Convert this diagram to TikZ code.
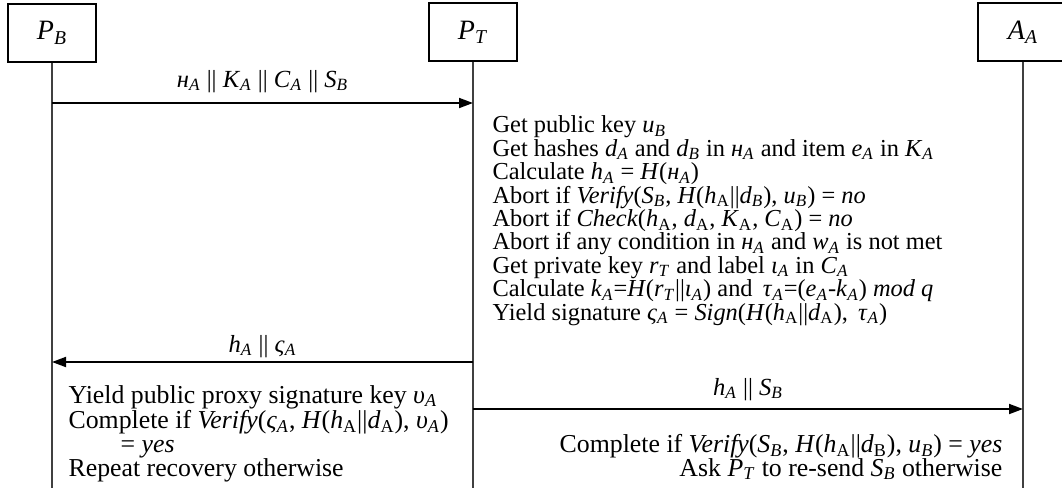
\documentclass[tikz,border=0pt]{standalone}
\usepackage{fontspec}
\setmainfont{Liberation Serif}
\usetikzlibrary{positioning, arrows.meta}
\newcommand{\vsub}[2]{\textit{#1}\textsubscript{\textit{#2}}}
\newcommand{\msub}[2]{\textit{#1}\textsubscript{#2}}
\newcommand{\hn}{\textit{н}}

\begin{document}
\begin{tikzpicture}[x=0.5pt,y=-0.5pt,line width=0.6pt,
    party/.style={draw, line width=0.7pt, minimum width=44pt, minimum height=29pt, inner sep=0pt, font=\fontsize{14}{16}\selectfont},
    life/.style={draw=black!75, line width=0.6pt},
    msg/.style={-{Triangle[length=7pt,width=5pt]}, line width=0.9pt},
    lbl/.style={font=\fontsize{12.3}{11.8}\selectfont, inner sep=0pt},
    steps/.style={font=\fontsize{12.2}{11.7}\selectfont, inner sep=0pt, align=left, anchor=base west},
    tail/.style={font=\fontsize{12.9}{11.78}\selectfont, inner sep=0pt}]
  \useasboundingbox (0,0) rectangle (1062,499);
  \node[party] (pb) at (52,33) {\vsub{P}{B}};
  \node[party] (pt) at (473,32) {\vsub{P}{T}};
  \node[party, minimum width=45pt] (aa) at (1023,32) {\vsub{A}{A}};
  \coordinate (pbend) at (pb.south |- 0,488);
  \coordinate (ptend) at (pt.south |- 0,488);
  \coordinate (aaend) at (aa.south |- 0,488);
  \foreach \p in {pb,pt,aa}{\draw[life] (\p.south) -- (\p end);}
  \coordinate (m1s) at (pb.south |- 0,103);
  \coordinate (m1e) at (pt.south |- 0,103);
  \coordinate (m2s) at (pt.south |- 0,362);
  \coordinate (m2e) at (pb.south |- 0,362);
  \coordinate (m3s) at (pt.south |- 0,409);
  \coordinate (m3e) at (aa.south |- 0,409);
  \draw[msg] (m1s) -- (m1e) node[lbl, midway, anchor=base, yshift=8pt] (l1) {\vsub{\hn}{A} || \vsub{K}{A} || \vsub{C}{A} || \vsub{S}{B}};
  \draw[msg] (m2s) -- (m2e) node[lbl, midway, anchor=base, yshift=5pt] (l2) {\vsub{h}{A} || \vsub{ς}{A}};
  \draw[msg] (m3s) -- (m3e) node[lbl, midway, anchor=base, yshift=7pt] (l3) {\vsub{h}{A} || \vsub{S}{B}};
  \node[steps] (ptsteps) at (492,320) {Get public key \vsub{u}{B}\\
    Get hashes \vsub{d}{A} and \vsub{d}{B} in \vsub{\hn}{A} and item \vsub{e}{A} in \vsub{K}{A}\\
    Calculate \vsub{h}{A} = \textit{H}(\vsub{\hn}{A})\\
    Abort if \textit{Verify}(\vsub{S}{B}, \textit{H}(\msub{h}{A}||\vsub{d}{B}), \vsub{u}{B}) = \textit{no}\\
    Abort if \textit{Check}(\msub{h}{A}, \msub{d}{A}, \msub{K}{A}, \msub{C}{A}) = \textit{no}\\
    Abort if any condition in \vsub{\hn}{A} and \vsub{w}{A} is not met\\
    Get private key \vsub{r}{T} and label \vsub{ι}{A} in \vsub{C}{A}\\
    Calculate \vsub{k}{A}=\textit{H}(\vsub{r}{T}||\vsub{ι}{A}) and \,\vsub{τ}{A}=(\vsub{e}{A}-\vsub{k}{A}) \textit{mod q}\\
    Yield signature \vsub{ς}{A} = \textit{Sign}(\textit{H}(\msub{h}{A}||\msub{d}{A}), \,\vsub{τ}{A})};
  \node[tail, align=left, anchor=base west] (pbsteps) at (68,476) {Yield public proxy signature key \vsub{υ}{A}\\
    Complete if \textit{Verify}(\vsub{ς}{A}, \textit{H}(\msub{h}{A}||\msub{d}{A}), \vsub{υ}{A})\\
    \hspace*{26pt}= \textit{yes}\\
    Repeat recovery otherwise};
  \node[tail, align=right, anchor=base east] (aasteps) at (1003,476) {Complete if \textit{Verify}(\vsub{S}{B}, \textit{H}(\msub{h}{A}||\msub{d}{B}), \vsub{u}{B}) = \textit{yes}\\
    Ask \vsub{P}{T} to re-send \vsub{S}{B} otherwise};
\end{tikzpicture}
\end{document}
